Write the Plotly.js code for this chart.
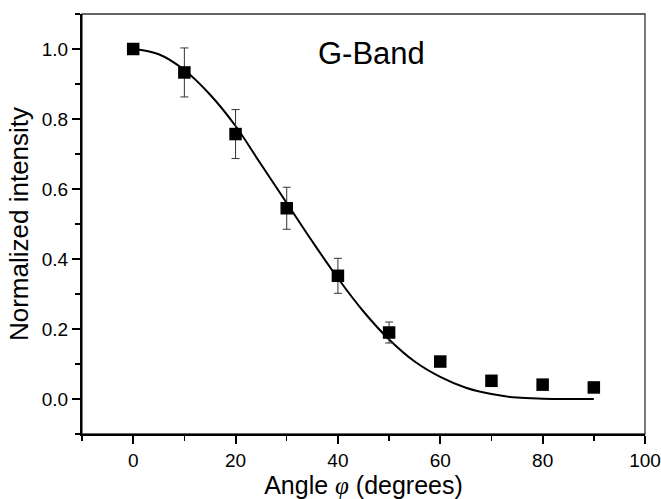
<!DOCTYPE html>
<html>
<head>
<meta charset="utf-8">
<script src="https://cdn.plot.ly/plotly-3.0.1.min.js"></script>
<style>html,body{margin:0;padding:0;background:#fff;}#chart{width:661px;height:499px;}</style>
</head>
<body>
<div id="chart"></div>
<script>
// Measured data points
var angles = [0, 10, 20, 30, 40, 50, 60, 70, 80, 90];
var intensity = [1.0, 0.933, 0.757, 0.545, 0.352, 0.19, 0.107, 0.052, 0.041, 0.033];
var errors = [0, 0.07, 0.07, 0.06, 0.05, 0.03, 0, 0, 0, 0];

// Fit curve
var fitAngles = [0, 5, 10, 15, 20, 25, 30, 35, 40, 45, 50, 55, 60, 65, 70, 75, 80, 85, 90];
var fitValues = [1.0, 0.985, 0.94, 0.87, 0.78, 0.67, 0.56, 0.45, 0.345, 0.25, 0.17, 0.107, 0.063, 0.032, 0.014, 0.004, 0.001, 0.0, 0.0];

var xTicks = [0, 20, 40, 60, 80, 100];
var yTicks = [0.0, 0.2, 0.4, 0.6, 0.8, 1.0];
var yTickLabels = ['0.0', '0.2', '0.4', '0.6', '0.8', '1.0'];

var bandLabel = 'G-Band';

var traces = [
  {
    x: fitAngles, y: fitValues, type: 'scatter', mode: 'lines',
    line: {color: '#000', width: 2, shape: 'spline', smoothing: 1},
    hoverinfo: 'skip'
  },
  {
    x: angles, y: intensity, type: 'scatter', mode: 'markers',
    marker: {symbol: 'square', size: 12.5, color: '#000'},
    error_y: {type: 'data', array: errors, visible: true, color: '#333', thickness: 1, width: 4}
  }
];

var font = 'Liberation Sans, Arial, sans-serif';
var layout = {
  width: 661, height: 499,
  margin: {l: 82, r: 16, t: 14, b: 65},
  paper_bgcolor: '#fff', plot_bgcolor: '#fff',
  showlegend: false,
  font: {family: font, color: '#000'},
  xaxis: {
    range: [-10, 100],
    tickvals: xTicks,
    ticktext: xTicks.map(String),
    ticks: 'outside', ticklen: 8, tickwidth: 2, tickcolor: '#000',
    minor: {dtick: 10, tick0: 0, ticks: 'outside', ticklen: 5, tickwidth: 1.5, tickcolor: '#000'},
    showline: true, linewidth: 2, linecolor: '#000',
    showgrid: false, zeroline: false,
    tickfont: {size: 19, family: font, color: '#000'},
    title: {text: 'Angle <span style="font-family:\'Liberation Serif\'"><i>φ</i></span> (degrees)', font: {size: 25, family: font, color: '#000'}, standoff: 0}
  },
  yaxis: {
    range: [-0.1, 1.1],
    tickvals: yTicks,
    ticktext: yTickLabels,
    ticks: 'outside', ticklen: 8, tickwidth: 2, tickcolor: '#000',
    minor: {dtick: 0.1, tick0: 0, ticks: 'outside', ticklen: 5, tickwidth: 1.5, tickcolor: '#000'},
    showline: true, linewidth: 2, linecolor: '#000',
    showgrid: false, zeroline: false,
    tickfont: {size: 19, family: font, color: '#000'},
    title: {text: 'Normalized intensity', font: {size: 26, family: font, color: '#000'}, standoff: 6}
  },
  shapes: [
    {type: 'rect', xref: 'paper', yref: 'paper', x0: 0, x1: 1, y0: 0, y1: 1, line: {color: '#333', width: 1.3}, layer: 'below'}
  ],
  annotations: [
    {text: bandLabel, xref: 'paper', yref: 'paper', x: 0.515, y: 0.905, showarrow: false,
     xanchor: 'center', yanchor: 'middle', font: {size: 31, family: font, color: '#000'}}
  ]
};

Plotly.newPlot('chart', traces, layout, {displayModeBar: false, staticPlot: true});
</script>
</body>
</html>
